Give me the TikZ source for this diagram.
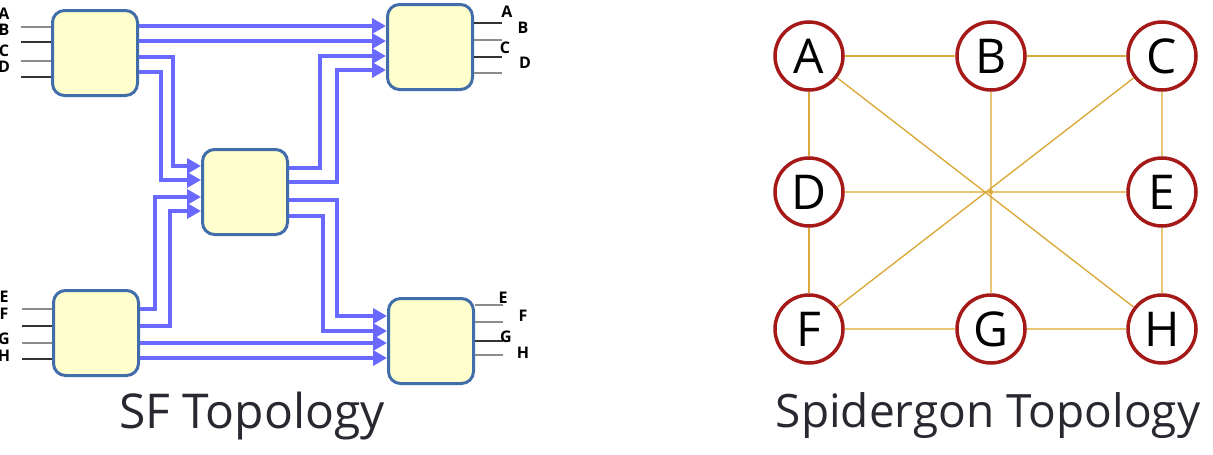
\documentclass[tikz,border=0pt]{standalone}
\usepackage{fontspec}
\setmainfont{Open Sans}
\usetikzlibrary{arrows.meta}

\definecolor{busblue}{RGB}{105,105,255}
\definecolor{routerline}{RGB}{65,110,170}
\definecolor{routerfill}{RGB}{255,255,205}
\definecolor{sitered}{RGB}{165,25,25}
\definecolor{linkgold}{RGB}{220,170,60}
\definecolor{linklight}{RGB}{232,198,115}
\definecolor{captiongray}{RGB}{40,40,48}

\tikzset{
  router/.style={draw=routerline, fill=routerfill, line width=3pt, rounded corners=12pt,
    minimum width=85pt, minimum height=85pt, inner sep=0pt},
  bus/.style={busblue, line width=3.8pt, -{Triangle[length=14pt,width=15pt]}},
  stub/.style={line width=1.5pt, black!80},
  stubgray/.style={line width=1.5pt, black!45},
  port/.style={inner sep=0pt, font=\fontsize{16}{17}\selectfont\bfseries},
  site/.style={circle, draw=sitered, fill=white, line width=3.5pt, minimum size=68pt,
    inner sep=0pt, font=\fontsize{48}{50}\selectfont},
  ring/.style={linkgold, line width=2.5pt},
  ringlight/.style={linklight, line width=2.5pt},
  spoke/.style={linkgold, line width=1.4pt},
  caption/.style={anchor=base, inner sep=0pt, text=captiongray}
}

\begin{document}
\begin{tikzpicture}[x=1pt,y=-1pt]
\useasboundingbox (0,0) rectangle (1213,455);

% SF topology: routers
\node[router] (tl) at (95,53) {};
\node[router] (tr) at (430,47) {};
\node[router] (m) at (245,192) {};
\node[router] (bl) at (96,333) {};
\node[router] (br) at (431,341) {};

% straight buses
\draw[bus] (tl.east |- 0,26) -- (tr.west |- 0,26);
\draw[bus] (tl.east |- 0,41) -- (tr.west |- 0,41);
\draw[bus] (bl.east |- 0,343) -- (br.west |- 0,343);
\draw[bus] (bl.east |- 0,358) -- (br.west |- 0,358);
% buses into the middle router
\draw[bus] (tl.east |- 0,57) -- (173,57) |- (m.west |- 0,166);
\draw[bus] (tl.east |- 0,72) -- (161,72) |- (m.west |- 0,180);
\draw[bus] (bl.east |- 0,309) -- (155,309) |- (m.west |- 0,197);
\draw[bus] (bl.east |- 0,326) -- (170,326) |- (m.west |- 0,211);
% buses out of the middle router
\draw[bus] (m.east |- 0,168) -- (320,168) |- (tr.west |- 0,56);
\draw[bus] (m.east |- 0,182) -- (337,182) |- (tr.west |- 0,70);
\draw[bus] (m.east |- 0,200) -- (337,200) |- (br.west |- 0,316);
\draw[bus] (m.east |- 0,216) -- (323,216) |- (br.west |- 0,331);

% input and output stubs
\foreach \y/\s in {27/stubgray,42/stub,61/stubgray,77/stub}
  \draw[\s] (tl.west |- 0,\y) -- +(-30,0);
\foreach \y/\s in {309/stubgray,326/stub,343/stubgray,359/stub}
  \draw[\s] (bl.west |- 0,\y) -- +(-30,0);
\foreach \y/\s in {23/stub,40/stubgray,57/stub,73/stubgray}
  \draw[\s] (tr.east |- 0,\y) -- +(28,0);
\foreach \y/\s in {305/stubgray,322/stubgray,341/stub,355/stubgray}
  \draw[\s] (br.east |- 0,\y) -- +(28,0);

% port labels
\node[port] (inA) at (4,14) {A};
\node[port] (inB) at (4,30) {B};
\node[port] (inC) at (4,51) {C};
\node[port] (inD) at (4,67) {D};
\node[port] (inE) at (4,297) {E};
\node[port] (inF) at (4,314) {F};
\node[port] (inG) at (4,339) {G};
\node[port] (inH) at (4,356) {H};
\node[port] (outA) at (507,12) {A};
\node[port] (outB) at (523,28) {B};
\node[port] (outC) at (505,48) {C};
\node[port] (outD) at (525,63) {D};
\node[port] (outE) at (503,298) {E};
\node[port] (outF) at (523,316) {F};
\node[port] (outG) at (506,337) {G};
\node[port] (outH) at (523,353) {H};

\node[caption, font=\fontsize{48}{50}\selectfont] (sfcap) at (252,428) {SF Topology};

% Spidergon topology
\foreach \n/\x/\y in {A/809/56, B/991/56, C/1162/56, D/809/192, E/1162/192,
                      F/809/329, G/991/329, H/1162/329}
  \node[site] (\n) at (\x,\y) {\n};
\foreach \a/\b in {A/B,B/C}
  \draw[ring] (\a) -- (\b);
\foreach \a/\b in {F/G,G/H,C/E,E/H,D/E}
  \draw[ringlight] (\a) -- (\b);
\foreach \a/\b in {A/D,D/F}
  \draw[ring, line width=2pt] (\a) -- (\b);
\draw[ringlight, line width=2pt] (B) -- (G);
\foreach \a/\b in {A/H,C/F}
  \draw[spoke] (\a) -- (\b);
\fill[linkgold] (991,192) circle (2.2pt);

\node[caption, font=\fontsize{46}{48}\selectfont] (spcap) at (988,427) {Spidergon Topology};
\end{tikzpicture}
\end{document}
